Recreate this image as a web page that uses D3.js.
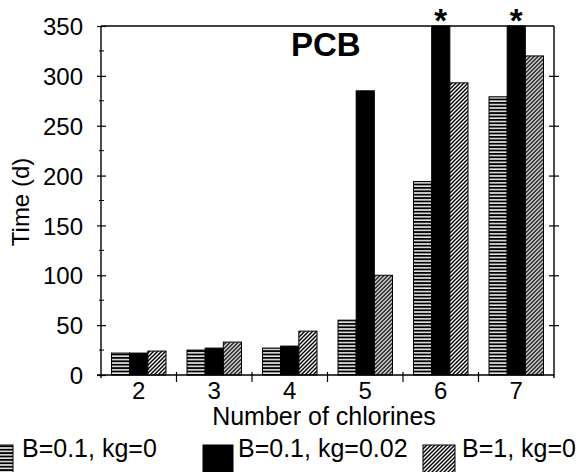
<!DOCTYPE html>
<html><head><meta charset="utf-8">
<script src="https://cdn.jsdelivr.net/npm/d3@7"></script>
<style>html,body{margin:0;padding:0;background:#fff;}svg{display:block;font-family:"Liberation Sans",Arial,sans-serif;}svg text{fill:#000;}</style>
</head><body>
<svg id="c" width="580" height="472"></svg>
<script>
const categories = ["2","3","4","5","6","7"];
const seriesNames = ["B=0.1, kg=0","B=0.1, kg=0.02","B=1, kg=0"];
const sLow = [22,25,27,55,194,279];
const sKg = [22,27,29,285,350,350];
const sHigh = [24,33,44,100,293,320];
const capped = [false,false,false,false,true,true];
const yTicks = [0,50,100,150,200,250,300,350];
const yMinor = [25,75,125,175,225,275,325];

const svg = d3.select("#c");
const defs = svg.append("defs");
const pH = defs.append("pattern").attr("id","horiz").attr("patternUnits","userSpaceOnUse").attr("width",6).attr("height",3.4);
pH.append("rect").attr("width",6).attr("height",3.4).attr("fill","#e4e4e4");
pH.append("rect").attr("y",0).attr("width",6).attr("height",1.8).attr("fill","#000");
const pD = defs.append("pattern").attr("id","diag").attr("patternUnits","userSpaceOnUse").attr("width",4).attr("height",4);
pD.append("rect").attr("width",4).attr("height",4).attr("fill","#fff");
pD.append("path").attr("d","M-1,1 l2,-2 M0,4 l4,-4 M3,5 l2,-2").attr("stroke","#000").attr("stroke-width",1.5);
const fills = ["url(#horiz)","#000","url(#diag)"];

const L=101,R=554,T=26,B=375;
const x0 = d3.scaleBand().domain(categories).range([L,R]).padding(0);
const x1 = d3.scaleBand().domain([0,1,2]).range([10.5,65]).padding(0);
const y = d3.scaleLinear().domain([0,350]).range([B,T]);

const data = categories.map((c,i)=>({c, v:[sLow[i],sKg[i],sHigh[i]], cap:capped[i]}));

const g = svg.append("g");
const grp = g.selectAll("g.grp").data(data).join("g").attr("transform",d=>`translate(${x0(d.c)},0)`);
grp.selectAll("rect").data(d=>d.v.map((v,k)=>({v,k}))).join("rect")
  .attr("x",d=>x1(d.k)).attr("width",x1.bandwidth())
  .attr("y",d=>y(d.v)).attr("height",d=>B-y(d.v))
  .attr("fill",d=>fills[d.k]).attr("stroke","#000").attr("stroke-width",1);
grp.filter(d=>d.cap).append("text")
  .attr("x",x1(1)+x1.bandwidth()/2).attr("y",32).attr("text-anchor","middle")
  .attr("font-size",33).attr("font-weight","bold").text("*");

// axes
const yAx = svg.append("g").attr("transform",`translate(${L},0)`)
  .call(d3.axisLeft(y).tickValues(yTicks).tickSize(5).tickFormat(d3.format("d")));
yAx.select(".domain").remove();
yAx.selectAll(".tick line").attr("x1",5).attr("x2",-4).attr("stroke","#000").attr("stroke-width",1.2);
yAx.selectAll(".tick text").attr("x",-18).attr("font-size",24).attr("font-family","Liberation Sans, Arial, sans-serif").attr("fill","#000").attr("dy","0.36em");
svg.append("g").selectAll("line").data(yMinor).join("line")
  .attr("x1",L-2).attr("x2",L+3).attr("y1",d=>y(d)).attr("y2",d=>y(d)).attr("stroke","#000").attr("stroke-width",1);

const yAxR = svg.append("g").attr("transform",`translate(${R},0)`)
  .call(d3.axisRight(y).tickValues(yTicks.slice(1,-1)).tickSize(5).tickFormat(""));
yAxR.select(".domain").remove();
yAxR.selectAll(".tick line").attr("x1",-5).attr("x2",5).attr("stroke","#000").attr("stroke-width",1.2);

const xAx = svg.append("g").attr("transform",`translate(0,${B})`)
  .call(d3.axisBottom(x0).tickSize(0).tickPadding(0));
xAx.select(".domain").remove();
xAx.selectAll(".tick text").attr("y",24).attr("dy",0).attr("font-size",24).attr("font-family","Liberation Sans, Arial, sans-serif").attr("fill","#000");
const bounds = categories.map(c=>x0(c)+x0.bandwidth()).slice(0,-1);
svg.append("g").selectAll("line").data(bounds).join("line")
  .attr("x1",d=>d).attr("x2",d=>d).attr("y1",B-3).attr("y2",B+7).attr("stroke","#000").attr("stroke-width",1.2);

// frame lines
svg.append("line").attr("x1",L).attr("x2",L).attr("y1",T).attr("y2",B+3).attr("stroke","#000").attr("stroke-width",1.4);
svg.append("line").attr("x1",R).attr("x2",R).attr("y1",T).attr("y2",B+3).attr("stroke","#000").attr("stroke-width",1.4);
svg.append("line").attr("x1",L).attr("x2",R).attr("y1",T).attr("y2",T).attr("stroke","#000").attr("stroke-width",1.4);
svg.append("line").attr("x1",L-4).attr("x2",R).attr("y1",B).attr("y2",B).attr("stroke","#000").attr("stroke-width",1.4);

// title & labels
svg.append("text").attr("x",291).attr("y",56).attr("font-size",33).attr("font-weight","bold").text("PCB");
svg.append("text").attr("x",324).attr("y",425).attr("text-anchor","middle").attr("font-size",25).text("Number of chlorines");
svg.append("text").attr("transform","translate(29,202) rotate(-90)").attr("text-anchor","middle").attr("font-size",24).text("Time (d)");

// legend
const legX = [{sx:-14,sw:27,tx:22},{sx:203,sw:30,tx:238},{sx:423,sw:32,tx:462}];
const leg = svg.append("g").selectAll("g").data(seriesNames).join("g");
leg.append("rect").attr("x",(d,i)=>legX[i].sx).attr("y",445).attr("width",(d,i)=>legX[i].sw).attr("height",28)
  .attr("fill",(d,i)=>fills[i]).attr("stroke","#000").attr("stroke-width",1);
leg.append("text").attr("x",(d,i)=>legX[i].tx).attr("y",457).attr("font-size",25).text(d=>d);
</script>
</body></html>
